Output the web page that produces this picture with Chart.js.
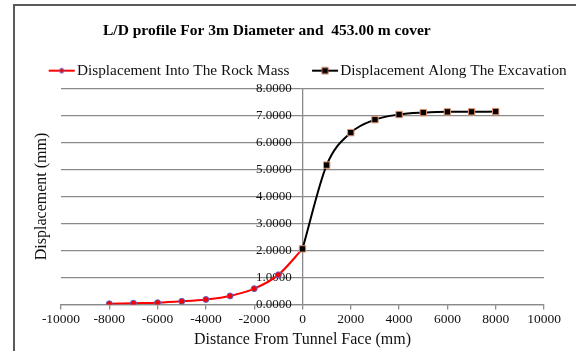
<!DOCTYPE html>
<html>
<head>
<meta charset="utf-8">
<script src="https://cdn.jsdelivr.net/npm/chart.js@4"></script>
<style>
  html, body { margin: 0; padding: 0; background: #fff; }
</style>
</head>
<body>
<canvas id="ldChart" width="585" height="351"></canvas>
<script>
// ---------- data ---------- //
var chartTitle = "L/D profile For 3m Diameter and  453.00 m cover";
var seriesNames = ["Displacement Into The Rock Mass", "Displacement Along The Excavation"];
var xAxisTitle = "Distance From Tunnel Face (mm)";
var yAxisTitle = "Displacement (mm)";

// distance from face (mm) and displacement (mm)
var rockMassX = [-8000, -7000, -6000, -5000, -4000, -3000, -2000, -1000, 0];
var rockMassY = [0.03, 0.05, 0.07, 0.12, 0.19, 0.32, 0.59, 1.10, 2.06];
var excavationX = [0, 1000, 2000, 3000, 4000, 5000, 6000, 7000, 8000];
var excavationY = [2.06, 5.16, 6.36, 6.84, 7.03, 7.10, 7.13, 7.13, 7.14];

// axis ranges / tick labels
var xMin = -10000, xMax = 10000, xStep = 2000;
var yMin = 0, yMax = 8, yStep = 1;

// ---------- helpers ---------- //
function toPoints(xs, ys) {
  return xs.map(function (x, i) { return { x: x, y: ys[i] }; });
}

// small canvas used as the legend symbol: a line with the series marker on it
// (drawn in the right part of the image so it sits next to the label text)
function makeLegendMarker(lineColor, drawMarker) {
  var c = document.createElement('canvas');
  c.width = 46;
  c.height = 10;
  var g = c.getContext('2d');
  g.strokeStyle = lineColor;
  g.lineWidth = 2;
  g.beginPath();
  g.moveTo(19, 5);
  g.lineTo(45, 5);
  g.stroke();
  drawMarker(g, 32, 5);
  return c;
}

var legendMarkers = [
  makeLegendMarker('#ff0000', function (g, x, y) {
    g.fillStyle = '#ff0000';
    g.strokeStyle = '#5566cc';
    g.lineWidth = 1;
    g.beginPath();
    g.arc(x, y, 2.3, 0, Math.PI * 2);
    g.fill();
    g.stroke();
  }),
  makeLegendMarker('#000000', function (g, x, y) {
    g.fillStyle = '#000000';
    g.strokeStyle = '#b05a3a';
    g.lineWidth = 1;
    g.fillRect(x - 3, y - 3, 6, 6);
    g.strokeRect(x - 3, y - 3, 6, 6);
  })
];

// frame lines and the (left-set) chart title
var frameAndTitle = {
  id: 'frameAndTitle',
  beforeDraw: function (chart) {
    var ctx = chart.ctx;
    ctx.save();
    ctx.strokeStyle = '#5a5a5a';
    ctx.lineWidth = 2;
    ctx.beginPath();
    ctx.moveTo(14, 351);
    ctx.lineTo(14, 5);
    ctx.lineTo(576, 5);
    ctx.stroke();
    ctx.restore();
  },
  afterDraw: function (chart) {
    var ctx = chart.ctx;
    ctx.save();
    ctx.font = 'bold 15.5px "Liberation Serif"';
    ctx.fillStyle = '#000';
    ctx.textAlign = 'left';
    ctx.textBaseline = 'middle';
    ctx.fillText(chartTitle, 103, 31);
    ctx.restore();
  }
};

var serif = '"Liberation Serif", "DejaVu Serif", serif';
var gridGray = '#8a8a8a';

// ---------- chart ---------- //
const ctx = document.getElementById('ldChart');
new Chart(ctx, {
  type: 'line',
  data: {
    datasets: [{
      label: seriesNames[0],
      data: toPoints(rockMassX, rockMassY),
      borderColor: '#ff0000',
      borderWidth: 2,
      backgroundColor: '#ff0000',
      pointStyle: 'circle',
      pointRadius: 3,
      pointBorderColor: '#5566cc',
      pointBorderWidth: 1,
      cubicInterpolationMode: 'monotone',
      order: 1
    }, {
      label: seriesNames[1],
      data: toPoints(excavationX, excavationY),
      borderColor: '#000000',
      borderWidth: 2,
      backgroundColor: '#000000',
      pointStyle: 'rect',
      pointRadius: 4.5,
      pointBorderColor: '#e8946a',
      pointBorderWidth: 1,
      cubicInterpolationMode: 'monotone',
      order: 0
    }]
  },
  options: {
    responsive: false,
    animation: false,
    devicePixelRatio: 1,
    layout: {
      padding: { top: 53, left: 26, right: 0, bottom: 2 }
    },
    plugins: {
      tooltip: { enabled: false },
      legend: {
        display: true,
        position: 'top',
        align: 'start',
        labels: {
          usePointStyle: true,
          pointStyleWidth: 33.3,
          padding: 10,
          color: '#111',
          font: { family: serif, size: 15.3 },
          generateLabels: function (chart) {
            var items = Chart.defaults.plugins.legend.labels.generateLabels(chart);
            items.sort(function (a, b) { return a.datasetIndex - b.datasetIndex; });
            items.forEach(function (item) {
              item.pointStyle = legendMarkers[item.datasetIndex];
            });
            return items;
          }
        }
      }
    },
    scales: {
      x: {
        type: 'linear',
        min: xMin,
        max: xMax,
        grid: {
          drawOnChartArea: true,
          drawTicks: true,
          tickLength: 5,
          // only the line at x = 0 shows inside the plot (the value axis)
          color: function (c) {
            return c.tick && c.tick.value === 0 ? gridGray : 'rgba(0,0,0,0)';
          },
          tickColor: gridGray,
          lineWidth: 1.3
        },
        border: { display: true, color: gridGray, width: 1.3 },
        ticks: {
          stepSize: xStep,
          autoSkip: false,
          maxRotation: 0,
          minRotation: 0,
          padding: 2,
          color: '#111',
          font: { family: serif, size: 13.5 },
          callback: function (v) { return String(v); }
        },
        title: {
          display: true,
          text: xAxisTitle,
          color: '#111',
          padding: { top: 0, bottom: 0 },
          font: { family: serif, size: 16 }
        }
      },
      y: {
        type: 'linear',
        // labels sit just left of the value axis at x = 0
        position: { x: -450 },
        min: yMin,
        max: yMax,
        grid: {
          drawTicks: false,
          color: gridGray,
          lineWidth: 1.3
        },
        border: { display: false },
        ticks: {
          stepSize: yStep,
          padding: 0,
          color: '#111',
          font: { family: serif, size: 13 },
          callback: function (v) { return v.toFixed(4); }
        }
      },
      // left-hand axis that only carries the y title
      yTitle: {
        type: 'linear',
        position: 'left',
        grid: { display: false },
        border: { display: false },
        ticks: { display: false },
        afterFit: function (scale) { scale.width = 35; },
        title: {
          display: true,
          text: yAxisTitle,
          color: '#111',
          padding: { top: 6, bottom: 0 },
          font: { family: serif, size: 16 }
        }
      },
      // empty right-hand axis, keeps the plot clear of the right edge
      yRight: {
        type: 'linear',
        position: 'right',
        display: true,
        grid: { display: false },
        border: { display: false },
        ticks: { display: false },
        afterFit: function (scale) { scale.width = 41; }
      }
    }
  },
  plugins: [frameAndTitle]
});
</script>
</body>
</html>
